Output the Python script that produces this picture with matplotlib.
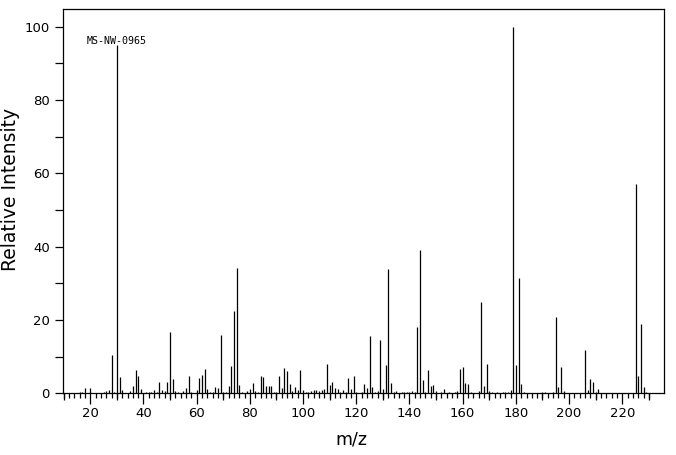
import matplotlib
matplotlib.use("Agg")
import matplotlib.pyplot as plt
import numpy as np

# m/z values and relative intensities
mz = [16, 17, 18, 20, 25, 26, 27, 28, 29, 30, 31, 32, 35, 36, 37, 38, 39,
      41, 42, 43, 44, 45, 46, 47, 48, 49, 50, 51, 52, 53, 55, 56, 57, 58,
      60, 61, 62, 63, 64, 65, 66, 67, 68, 69, 70, 71, 72, 73, 74, 75, 76,
      77, 79, 80, 81, 82, 83, 84, 85, 86, 87, 88, 89, 90, 91, 92, 93, 94,
      95, 96, 97, 98, 99, 100, 101, 102, 103, 104, 105, 106, 107, 108, 109,
      110, 111, 112, 113, 114, 115, 116, 117, 118, 119, 120, 122, 123, 124,
      125, 126, 127, 128, 129, 130, 131, 132, 133, 134, 135, 137, 138, 139,
      140, 141, 142, 143, 144, 145, 146, 147, 148, 149, 150, 152, 153, 155,
      157, 158, 159, 160, 161, 162, 163, 166, 167, 168, 169, 170, 171, 173,
      175, 176, 177, 178, 179, 180, 181, 182, 183, 190, 191, 194, 195, 196,
      197, 198, 206, 207, 208, 209, 210, 211, 225, 226, 227, 228, 229]
intensity = [0.4, 0.4, 1.5, 1.5, 0.4, 0.6, 1.0, 10.5, 0.4, 95.0, 4.5, 0.9,
             0.6, 2.1, 6.4, 4.7, 1.2,
             0.4, 0.4, 0.4, 0.9, 0.4, 3.1, 0.9, 0.5, 3.1, 16.7, 3.9, 0.6, 0.4,
             0.6, 1.5, 4.7, 0.4,
             0.9, 4.2, 5.0, 6.6, 1.2, 0.4, 0.4, 1.7, 1.5, 15.9, 0.4, 0.4, 2.0,
             7.5, 22.5, 34.2, 2.3,
             0.4, 0.6, 1.2, 2.8, 0.6, 0.4, 4.7, 4.5, 2.0, 2.0, 2.0, 0.4, 0.4,
             4.7, 1.5, 6.9, 6.1,
             2.5, 0.6, 1.7, 0.9, 6.4, 0.9, 0.4, 0.4, 0.6, 0.9, 0.9, 0.6, 0.9,
             1.2, 8.0,
             2.3, 3.1, 1.5, 1.2, 0.4, 0.9, 0.4, 4.2, 1.2, 4.7, 0.4, 0.4, 2.5,
             1.5,
             15.6, 1.7, 0.4, 0.6, 14.5, 1.2, 7.7, 33.9, 2.8, 0.4, 0.6, 0.4,
             0.4, 0.4,
             0.4, 0.6, 0.4, 18.1, 39.1, 3.6, 0.4, 6.4, 2.0, 2.3, 0.6, 0.4, 1.2,
             0.4,
             0.4, 0.6, 6.5, 7.3, 2.7, 2.5, 0.4, 0.5, 25.0, 2.0, 8.0, 0.5, 0.4,
             0.4,
             0.4, 0.4, 0.4, 0.9, 100.0, 7.7, 31.5, 2.5, 0.4, 0.4, 0.4, 0.4,
             20.8, 1.8,
             7.3, 0.6, 11.8, 0.9, 3.9, 3.1, 0.4, 1.2, 57.1, 4.7, 18.9, 1.7, 0.4]

x_major = list(range(20, 221, 20))
x_medium = list(range(10, 231, 20))
x_minor = list(range(10, 231, 2))
y_major = list(range(0, 101, 20))
y_minor = list(range(10, 91, 20))
code_label = "MS-NW-0965"

W, H = 676, 455
fig = plt.figure(figsize=(W / 100, H / 100), dpi=100)
ax = fig.add_axes([63.3 / W, 61.7 / H, 601.0 / W, 384.0 / H])

ax.vlines(mz, 0, intensity, colors="black", linewidth=0.9)

ax.set_xlim(9.85, 235.8)
ax.set_ylim(0, 104.7)

for side in ["left", "right", "top", "bottom"]:
    ax.spines[side].set_linewidth(0.9)
    ax.spines[side].set_color("black")

ax.set_xticks(x_major)
ax.set_xticks(x_minor, minor=True)
ax.set_yticks(y_major)
ax.set_yticks(y_minor, minor=True)

ax.tick_params(axis="x", which="major", direction="out", length=7.7,
               width=0.9, pad=2.5, labelsize=9.5)
ax.tick_params(axis="x", which="minor", direction="out", length=3.8,
               width=0.9)
ax.tick_params(axis="y", which="both", direction="out", length=5.8,
               width=0.9, pad=4, labelsize=9.5)

sec = ax.secondary_xaxis("bottom")
sec.set_xticks(x_medium)
sec.tick_params(axis="x", which="major", direction="out", length=5.3,
                width=0.9, labelbottom=False)
sec.tick_params(axis="x", which="minor", length=0)
sec.spines["bottom"].set_visible(False)

fig.text(351 / W, 1 - 440 / H, "m/z", ha="center", va="center", fontsize=12.5)
fig.text(11 / W, 1 - 189 / H, "Relative Intensity", ha="center",
         va="center", rotation=90, fontsize=13.5)

ax.text(30, 96.1, code_label, ha="center", va="center",
        family="DejaVu Sans Mono", fontsize=7.2)

fig.savefig("out.png", dpi=100)
